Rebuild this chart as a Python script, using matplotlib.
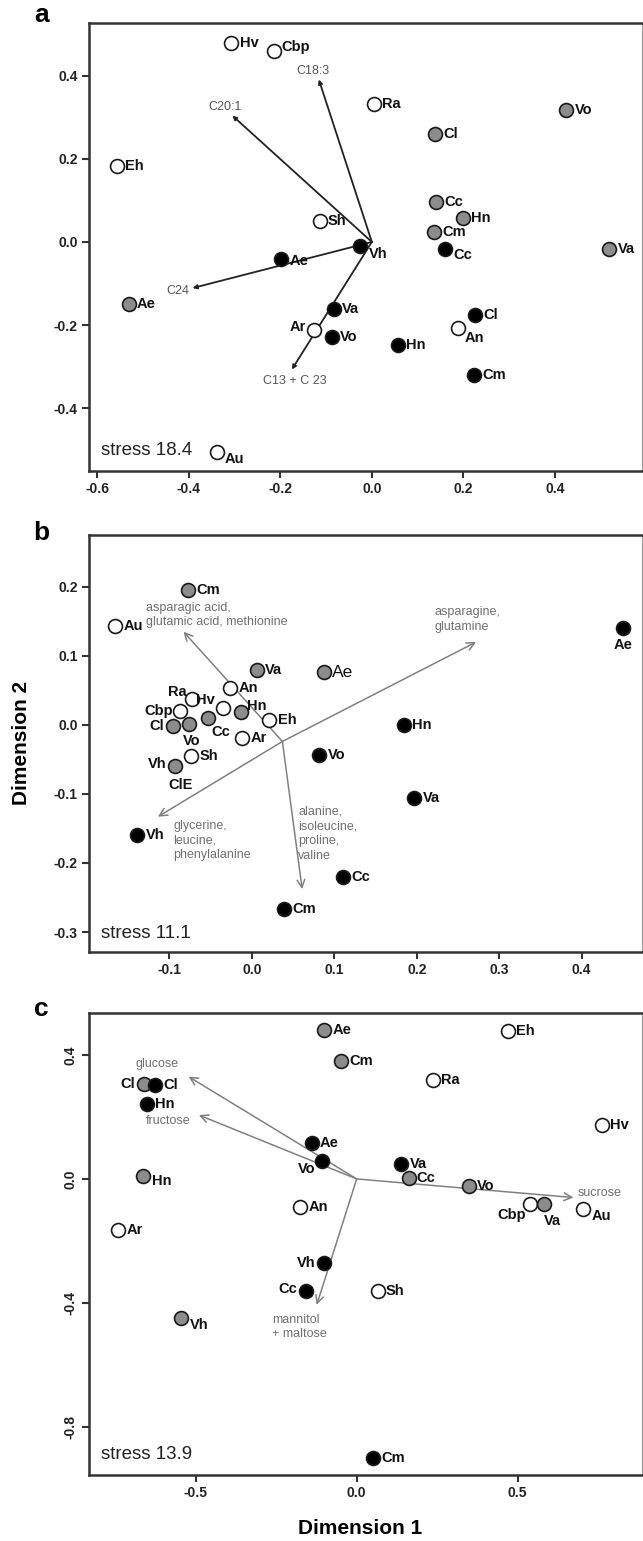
import matplotlib
matplotlib.use("Agg")
import matplotlib.pyplot as plt
from matplotlib.ticker import FormatStrFormatter

plt.rcParams['font.family'] = ['Liberation Sans', 'DejaVu Sans']

# marker groups: o = open, g = grey, k = black
FILL = {'o': 'white', 'g': '#8c8c8c', 'k': 'black'}

# ---- panel a : fatty acids ----
a_names = ['Hv', 'Cbp', 'Ra', 'Vo', 'Cl', 'Eh', 'Cc', 'Hn', 'Cm', 'Sh', 'Vh', 'Cc', 'Va',
           'Ae', 'Ae', 'Va', 'Cl', 'Ar', 'Vo', 'Hn', 'An', 'Cm', 'Au']
a_group = ['o', 'o', 'o', 'g', 'g', 'o', 'g', 'g', 'g', 'o', 'k', 'k', 'g',
           'k', 'g', 'k', 'k', 'o', 'k', 'k', 'o', 'k', 'o']
a_x = [-0.307, -0.215, 0.004, 0.425, 0.138, -0.557, 0.141, 0.199, 0.136, -0.114, -0.025, 0.160, 0.519,
       -0.199, -0.532, -0.083, 0.225, -0.126, -0.088, 0.057, 0.188, 0.223, -0.338]
a_y = [0.479, 0.459, 0.333, 0.318, 0.260, 0.182, 0.095, 0.058, 0.024, 0.050, -0.009, -0.017, -0.018,
       -0.040, -0.149, -0.161, -0.175, -0.211, -0.229, -0.247, -0.207, -0.319, -0.506]
a_vec_names = ['C18:3', 'C20:1', 'C24', 'C13 + C 23']
a_vec_x = [-0.116, -0.305, -0.392, -0.175]
a_vec_y = [0.391, 0.304, -0.111, -0.307]
a_origin = (0.0, 0.0)
a_stress = 18.4

# ---- panel b : amino acids ----
b_names = ['Cm', 'Au', 'Ae', 'Va', 'Ae', 'An', 'Ra', 'Hv', 'Hn', 'Cbp', 'Cl', 'Vo', 'Cc', 'Eh',
           'Ar', 'Sh', 'Vh', 'Hn', 'Vo', 'Va', 'Vh', 'Cc', 'Cm']
b_group = ['g', 'o', 'k', 'g', 'g', 'o', 'o', 'o', 'g', 'o', 'g', 'g', 'g', 'o',
           'o', 'o', 'g', 'k', 'k', 'k', 'k', 'k', 'k']
b_x = [-0.077, -0.166, 0.450, 0.006, 0.087, -0.026, -0.073, -0.035, -0.013, -0.087, -0.096, -0.076, -0.053, 0.021,
       -0.012, -0.074, -0.093, 0.184, 0.082, 0.197, -0.139, 0.111, 0.039]
b_y = [0.195, 0.143, 0.140, 0.080, 0.076, 0.053, 0.037, 0.024, 0.019, 0.020, -0.002, 0.001, 0.010, 0.007,
       -0.019, -0.045, -0.059, 0.000, -0.044, -0.106, -0.159, -0.220, -0.266]
b_vec_names = ['asparagic acid,\nglutamic acid, methionine', 'asparagine,\nglutamine',
               'glycerine,\nleucine,\nphenylalanine', 'alanine,\nisoleucine,\nproline,\nvaline']
b_vec_x = [-0.083, 0.272, -0.114, 0.061]
b_vec_y = [0.135, 0.120, -0.133, -0.238]
b_origin = (0.037, -0.024)
b_stress = 11.1

# ---- panel c : sugars ----
c_names = ['Ae', 'Eh', 'Cm', 'Ra', 'Cl', 'Cl', 'Hn', 'Hv', 'Ae', 'Vo', 'Va', 'Cc', 'Hn', 'Vo',
           'Cbp', 'Va', 'Au', 'An', 'Ar', 'Vh', 'Cc', 'Sh', 'Vh', 'Cm']
c_group = ['g', 'o', 'g', 'o', 'g', 'k', 'k', 'o', 'k', 'k', 'k', 'g', 'g', 'g',
           'o', 'g', 'o', 'o', 'o', 'k', 'k', 'o', 'g', 'k']
c_x = [-0.101, 0.469, -0.050, 0.236, -0.661, -0.627, -0.652, 0.762, -0.140, -0.107, 0.138, 0.161, -0.662, 0.348,
       0.539, 0.581, 0.704, -0.175, -0.741, -0.102, -0.158, 0.065, -0.544, 0.051]
c_y = [0.481, 0.478, 0.381, 0.319, 0.306, 0.303, 0.242, 0.174, 0.117, 0.058, 0.047, 0.004, 0.008, -0.023,
       -0.081, -0.082, -0.097, -0.091, -0.165, -0.270, -0.361, -0.363, -0.449, -0.899]
c_vec_names = ['glucose', 'fructose', 'sucrose', 'mannitol\n+ maltose']
c_vec_x = [-0.522, -0.490, 0.673, -0.124]
c_vec_y = [0.330, 0.206, -0.060, -0.406]
c_origin = (0.0, 0.0)
c_stress = 13.9

# label placement: index -> (dx, dy in points, ha); everything else sits to the right
a_place = {1: (6, 3, 'left'), 10: (6, -6, 'left'), 11: (6, -4, 'left'), 13: (6, -2, 'left'),
           17: (-6, 2, 'right'), 20: (5, -7, 'left'), 22: (5, -5, 'left')}
b_place = {2: (0, -12, 'center'), 6: (-4, 5, 'right'), 7: (-6, 6, 'right'), 8: (4, 4, 'left'),
           9: (-5, 0, 'right'), 10: (-6, 0, 'right'), 11: (2, -12, 'center'), 12: (2, -10, 'left'),
           16: (-6, 1, 'right')}
c_place = {4: (-6, 0, 'right'), 9: (-5, -6, 'right'), 12: (6, -3, 'left'), 14: (-3, -8, 'right'),
           15: (6, -12, 'center'), 16: (6, -5, 'left'), 19: (-6, 0, 'right'), 20: (-6, 1, 'right'),
           22: (6, -5, 'left')}
# offsets of the loading labels from the arrow tips (points)
a_vec_off = [(-4, 6, 'center'), (-5, 6, 'center'), (-2, -2, 'right'), (2, -8, 'center')]
b_vec_off = [(-27, 12, 'left'), (-30, 16, 'left'), (11, -17, 'left'), (-3, 40, 'left')]
c_vec_off = [(-23, 9, 'center'), (-22, -4, 'center'), (3, 3, 'left'), (-32, -16, 'left')]

fig = plt.figure(figsize=(6.43, 15.41), dpi=100)
ax_a = fig.add_axes([0.138, 0.6944, 0.860, 0.2907])
ax_b = fig.add_axes([0.138, 0.3822, 0.860, 0.2706])
ax_c = fig.add_axes([0.138, 0.0428, 0.860, 0.2998])


def draw_panel(ax, names, group, xs, ys, place, vnames, vx, vy, origin, voff, dark_arrows, stress):
    # loading vectors
    for name, tx, ty, (dx, dy, ha) in zip(vnames, vx, vy, voff):
        if dark_arrows:
            props = dict(arrowstyle='-|>', color='#222222', lw=1.3, mutation_scale=6,
                         shrinkA=0, shrinkB=0)
            tcol = '#555555'
        else:
            props = dict(arrowstyle='->', color='#808080', lw=1.1, mutation_scale=14,
                         shrinkA=0, shrinkB=0)
            tcol = '#707070'
        ax.annotate('', xy=(tx, ty), xytext=origin, arrowprops=props, zorder=2)
        ax.annotate(name, xy=(tx, ty), xytext=(dx, dy), textcoords='offset points',
                    ha=ha, va='center', fontsize=9, color=tcol, linespacing=1.3, zorder=2)
    # sites
    labels = []
    for i, (n, g, x, y) in enumerate(zip(names, group, xs, ys)):
        ax.scatter(x, y, s=100, c=FILL[g], edgecolors='#1a1a1a', linewidths=1.2, zorder=3)
        dx, dy, ha = place.get(i, (6, 0, 'left'))
        t = ax.annotate(n, xy=(x, y), xytext=(dx, dy), textcoords='offset points',
                        ha=ha, va='center', fontsize=10.5, fontweight='bold', color='#111111', zorder=4)
        labels.append(t)
    ax.text(0.022, 0.045, 'stress %.1f' % stress, transform=ax.transAxes,
            ha='left', va='center', fontsize=13.5, color='#222222')
    for side in ['left', 'bottom', 'top']:
        ax.spines[side].set_linewidth(1.8)
        ax.spines[side].set_color('#333333')
    ax.spines['right'].set_linewidth(0.8)
    ax.spines['right'].set_color('#999999')
    ax.tick_params(direction='out', length=5, width=1.5, color='#333333', labelsize=10, pad=3)
    return labels


draw_panel(ax_a, a_names, a_group, a_x, a_y, a_place, a_vec_names, a_vec_x, a_vec_y,
           a_origin, a_vec_off, True, a_stress)
ax_a.set_xlim(-0.619, 0.590)
ax_a.set_ylim(-0.551, 0.527)
ax_a.set_xticks([-0.6, -0.4, -0.2, 0.0, 0.2, 0.4])
ax_a.set_yticks([-0.4, -0.2, 0.0, 0.2, 0.4])

b_labels = draw_panel(ax_b, b_names, b_group, b_x, b_y, b_place, b_vec_names, b_vec_x, b_vec_y,
                      b_origin, b_vec_off, False, b_stress)
# the grey Ae in b carries a plain, larger label
b_labels[4].set_fontweight('normal')
b_labels[4].set_fontsize(12.5)
ax_b.annotate('ClE', xy=(b_x[16], b_y[16]), xytext=(4, -14), textcoords='offset points',
              ha='center', va='center', fontsize=10.5, fontweight='bold', color='#111111')
ax_b.set_xlim(-0.198, 0.473)
ax_b.set_ylim(-0.329, 0.275)
ax_b.set_xticks([-0.1, 0.0, 0.1, 0.2, 0.3, 0.4])
ax_b.set_yticks([-0.3, -0.2, -0.1, 0.0, 0.1, 0.2])

draw_panel(ax_c, c_names, c_group, c_x, c_y, c_place, c_vec_names, c_vec_x, c_vec_y,
           c_origin, c_vec_off, False, c_stress)
ax_c.set_xlim(-0.832, 0.885)
ax_c.set_ylim(-0.955, 0.535)
ax_c.set_xticks([-0.5, 0.0, 0.5])
ax_c.set_yticks([-0.8, -0.4, 0.0, 0.4])

for ax in (ax_a, ax_b, ax_c):
    ax.xaxis.set_major_formatter(FormatStrFormatter('%.1f'))
    ax.yaxis.set_major_formatter(FormatStrFormatter('%.1f'))
    for lab in ax.get_xticklabels() + ax.get_yticklabels():
        lab.set_fontweight('bold')
        lab.set_color('#222222')
for lab in ax_c.get_yticklabels():
    lab.set_rotation(90)
    lab.set_va('center')

fig.text(0.065, 0.990, 'a', fontsize=19, fontweight='bold', ha='center', va='center')
fig.text(0.065, 0.654, 'b', fontsize=19, fontweight='bold', ha='center', va='center')
fig.text(0.065, 0.345, 'c', fontsize=19, fontweight='bold', ha='center', va='center')
fig.text(0.034, 0.518, 'Dimension 2', rotation=90, fontsize=15, fontweight='bold',
         ha='center', va='center')
fig.text(0.56, 0.0084, 'Dimension 1', fontsize=15, fontweight='bold', ha='center', va='center')

fig.savefig('out.png', dpi=100, facecolor='white')
